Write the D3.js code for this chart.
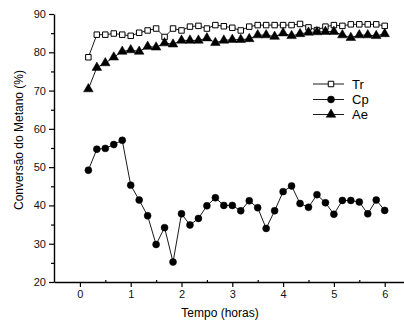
<!DOCTYPE html>
<html><head><meta charset="utf-8">
<script src="https://cdn.jsdelivr.net/npm/d3@7"></script>
<style>body{margin:0;background:#fff}svg{display:block;font-family:"Liberation Sans",Arial,sans-serif}</style>
</head><body><svg id="c" width="404" height="321"></svg>
<script>
const times = d3.range(1, 37).map(i => i / 6);
const trValues = [78.7,84.6,84.6,84.9,84.6,84.3,85.1,85.7,86.2,84.0,86.2,85.7,86.7,86.9,86.2,87.1,86.8,86.4,85.7,86.7,87.1,87.1,87.1,87.1,87.1,87.4,86.5,85.8,86.7,87.1,86.9,87.3,87.3,87.3,87.3,86.9];
const cpValues = [49.2,54.7,54.9,55.9,57.0,45.3,41.4,37.3,29.8,34.2,25.2,37.8,34.9,36.6,39.9,42.0,40.0,40.0,38.6,41.2,39.4,34.0,38.6,43.6,45.1,40.5,39.5,42.8,40.7,37.7,41.3,41.3,40.9,37.8,41.4,38.7];
const aeValues = [70.4,76.0,77.2,78.7,80.2,80.6,80.2,81.5,81.3,82.4,82.1,83.1,83.1,83.1,83.7,82.5,83.1,83.3,83.3,83.5,84.5,84.5,84.1,85.0,84.3,84.8,85.2,85.3,85.4,85.4,84.5,83.8,84.5,84.5,84.3,84.8];
const seriesNames = ["Tr","Cp","Ae"];
const xTicks = [0,1,2,3,4,5,6];
const yTicks = [20,30,40,50,60,70,80,90];

const svg = d3.select("#c");
const x = d3.scaleLinear().domain([-0.51, 6.38]).range([54, 404]);
const y = d3.scaleLinear().domain([20, 90]).range([282, 14]);

svg.append("g").attr("transform","translate(0,282)")
  .call(d3.axisBottom(x).tickValues(xTicks).tickFormat(d3.format("d")).tickSize(5).tickPadding(3).tickSizeOuter(0));
svg.append("g").attr("transform","translate(0,282)")
  .call(d3.axisBottom(x).tickValues(d3.range(0.5,6.5,1)).tickSize(-2).tickFormat("").tickSizeOuter(0))
  .select(".domain").remove();
svg.append("g").attr("transform","translate(54,0)")
  .call(d3.axisLeft(y).tickValues(yTicks).tickFormat(d3.format("d")).tickSize(5).tickPadding(3).tickSizeOuter(0));
svg.append("g").attr("transform","translate(54,0)")
  .call(d3.axisLeft(y).tickValues(d3.range(25,90,10)).tickSize(3).tickFormat("").tickSizeOuter(0))
  .select(".domain").remove();
svg.selectAll(".tick text").attr("font-size", 11).attr("fill","#111").attr("font-family","Liberation Sans, Arial, sans-serif");
svg.selectAll(".domain").attr("stroke","#000").attr("stroke-width",1.4);
svg.selectAll(".tick line").attr("stroke","#000").attr("stroke-width",1.2);

svg.append("text").attr("x", 220).attr("y", 317).attr("text-anchor","middle")
  .attr("font-size", 12).text("Tempo (horas)");
svg.append("text").attr("transform","translate(23,140) rotate(-90)").attr("text-anchor","middle")
  .attr("font-size", 12).text("Conversão do Metano (%)");

const seriesData = [trValues, cpValues, aeValues];
const line = d3.line().x((d,i) => x(times[i])).y(d => y(d));
const sq = d3.symbol().type(d3.symbolSquare).size(30);
const circ = d3.symbol().type(d3.symbolCircle).size(38);
const tri = d3.symbol().type(d3.symbolTriangle).size(40);
const shapes = [sq, circ, tri];
const fills = ["#fff", "#000", "#000"];

seriesData.forEach((vals, k) => {
  svg.append("path").datum(vals).attr("d", line).attr("fill","none")
    .attr("stroke","#000").attr("stroke-width",0.9);
  svg.append("g").selectAll("path").data(vals).join("path")
    .attr("transform",(d,i) => `translate(${x(times[i])},${y(d)})`)
    .attr("d", shapes[k]()).attr("fill", fills[k]).attr("stroke","#000").attr("stroke-width", k===0?1:0.5);
});

const legY = [84, 99.5, 114.5];
seriesNames.forEach((n,k) => {
  const g = svg.append("g").attr("transform",`translate(0,${legY[k]})`);
  g.append("line").attr("x1",313).attr("x2",344).attr("y1",0).attr("y2",0).attr("stroke","#000").attr("stroke-width",0.9);
  g.append("path").attr("transform","translate(331,0)").attr("d", shapes[k]())
    .attr("fill", fills[k]).attr("stroke","#000").attr("stroke-width", k===0?1:0.5);
  g.append("text").attr("x",352).attr("y",4.5).attr("font-size",13).text(n);
});
</script></body></html>
